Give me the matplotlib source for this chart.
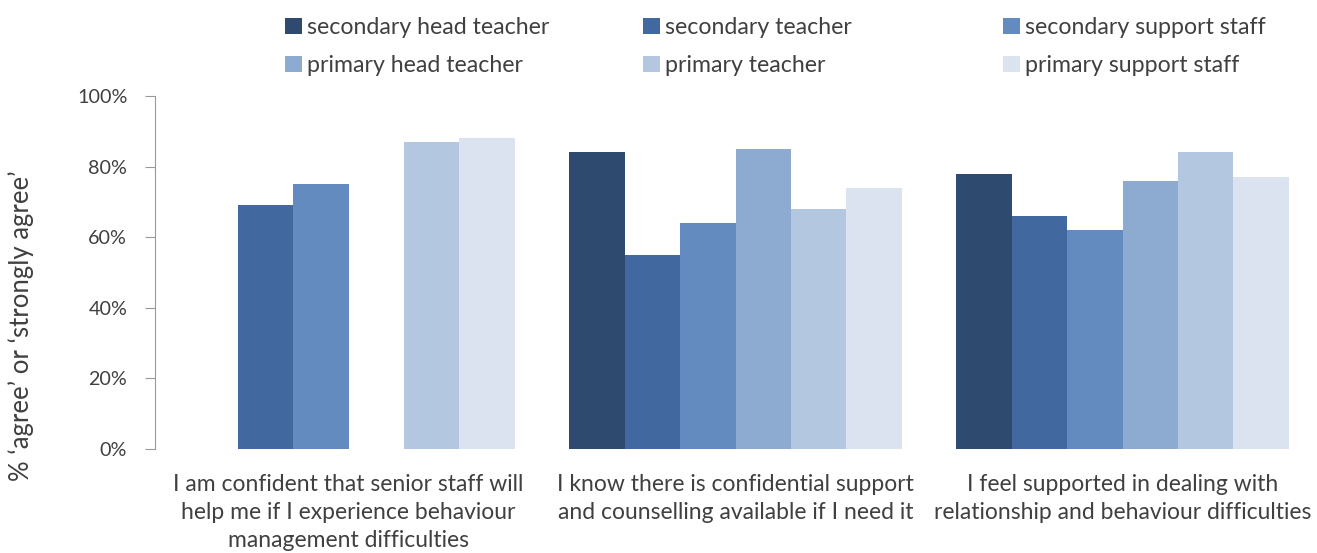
import numpy as np
import matplotlib.pyplot as plt

plt.rcParams["font.family"] = ["Lato", "DejaVu Sans"]

categories = [
    "I am confident that senior staff will\nhelp me if I experience behaviour\nmanagement difficulties",
    "I know there is confidential support\nand counselling available if I need it",
    "I feel supported in dealing with\nrelationship and behaviour difficulties",
]
series = [
    "secondary head teacher",
    "secondary teacher",
    "secondary support staff",
    "primary head teacher",
    "primary teacher",
    "primary support staff",
]
sec_head = [np.nan, 84, 78]
sec_teacher = [69, 55, 66]
sec_support = [75, 64, 62]
prim_head = [np.nan, 85, 76]
prim_teacher = [87, 68, 84]
prim_support = [88, 74, 77]
values = [sec_head, sec_teacher, sec_support, prim_head, prim_teacher, prim_support]
colors = ["#2E4A6F", "#41699F", "#638BC0", "#8DAAD1", "#B4C7E1", "#DCE3F0"]
text_col = "#404040"

fig = plt.figure(figsize=(13.17, 5.53), dpi=100)
ax = fig.add_axes([155 / 1317, 1 - 449 / 553, 1161 / 1317, 353 / 553])

x = np.arange(len(categories))
width = 0.143
handles = []
for i, (name, vals, col) in enumerate(zip(series, values, colors)):
    h = ax.bar(x + (i - 2.5) * width, vals, width, color=col, label=name)
    handles.append(h)

ax.set_xlim(-0.5, 2.5)
ax.set_ylim(0, 100)
ax.set_yticks(range(0, 101, 20))
ax.set_yticklabels([f"{v}%" for v in range(0, 101, 20)], fontsize=14.2, color=text_col)
ax.set_xticks(x)
ax.set_xticklabels(categories, fontsize=16.5, color=text_col, linespacing=1.42)
ax.tick_params(axis="x", length=0, pad=18)
ax.tick_params(axis="y", length=7, color="#999999", pad=13)
for side in ["top", "right", "bottom"]:
    ax.spines[side].set_visible(False)
ax.spines["left"].set_color("#999999")
ax.set_ylabel("% \u2018agree\u2019 or \u2018strongly agree\u2019", fontsize=18.5, color=text_col)
ax.yaxis.set_label_coords(-0.104, 0.35)

# one legend per column so the columns sit at fixed x positions
col_x = [285, 643, 1003]
for c in range(3):
    pair = [c, c + 3]
    fig.legend([handles[k] for k in pair], [series[k] for k in pair],
               loc="upper left", bbox_to_anchor=(col_x[c] / 1317, 1 - 17 / 553),
               frameon=False, fontsize=16.7, handlelength=0.74, handleheight=0.65,
               handletextpad=0.22, labelspacing=0.74, borderpad=0, borderaxespad=0,
               labelcolor=text_col)

fig.savefig("out.png")
